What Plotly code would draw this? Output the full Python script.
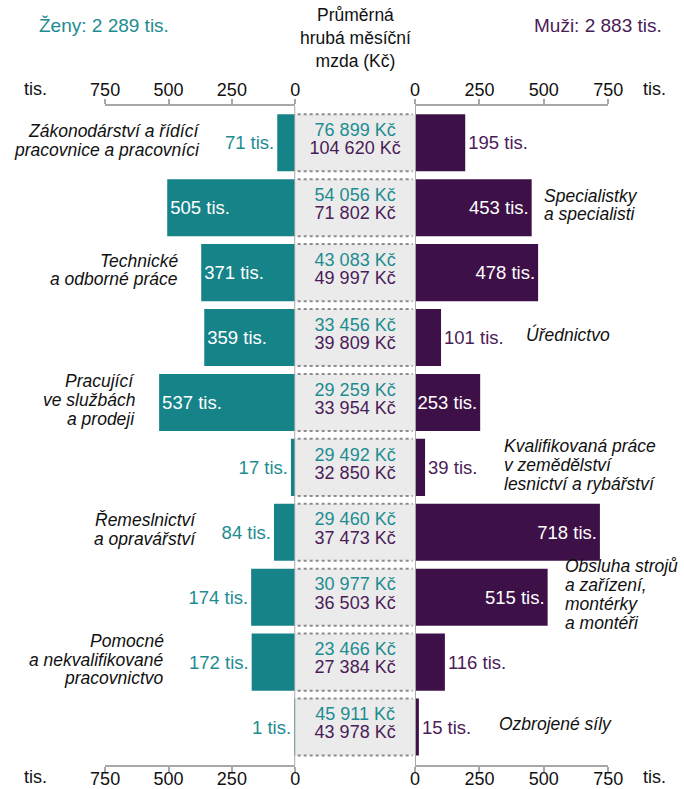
import plotly.graph_objects as go

# ---------------- data ----------------
categories = [
    "Zákonodárství a řídící pracovnice a pracovníci",
    "Specialistky a specialisti",
    "Technické a odborné práce",
    "Úřednictvo",
    "Pracující ve službách a prodeji",
    "Kvalifikovaná práce v zemědělství lesnictví a rybářství",
    "Řemeslnictví a opravářství",
    "Obsluha strojů a zařízení, montérky a montéři",
    "Pomocné a nekvalifikované pracovnictvo",
    "Ozbrojené síly",
]
label_lines = [
    ["Zákonodárství a řídící", "pracovnice a pracovníci"],
    ["Specialistky", "a specialisti"],
    ["Technické", "a odborné práce"],
    ["Úřednictvo"],
    ["Pracující", "ve službách", "a prodeji"],
    ["Kvalifikovaná práce", "v zemědělství", "lesnictví a rybářství"],
    ["Řemeslnictví", "a opravářství"],
    ["Obsluha strojů", "a zařízení,", "montérky", "a montéři"],
    ["Pomocné", "a nekvalifikované", "pracovnictvo"],
    ["Ozbrojené síly"],
]
women_count = [71, 505, 371, 359, 537, 17, 84, 174, 172, 1]      # tis.
men_count = [195, 453, 478, 101, 253, 39, 718, 515, 116, 15]     # tis.
women_wage = [76899, 54056, 43083, 33456, 29259, 29492, 29460, 30977, 23466, 45911]  # Kč
men_wage = [104620, 71802, 49997, 39809, 33954, 32850, 37473, 36503, 27384, 43978]   # Kč
tick_vals = [0, 250, 500, 750]
women_total = "Ženy: 2 289 tis."
men_total = "Muži: 2 883 tis."

# ---------------- style / layout ----------------
W, H = 684, 789
TEAL = "#168389"
TEAL_TXT = "#1d8c91"
PURPLE = "#3d1048"
PURPLE_TXT = "#4a1c58"
GREY_LINE = "#a8a8a8"
FONT = "Liberation Sans, Arial, sans-serif"
FS = 18
FS_VAL = 18.5
FS_WAGE = 18
FS_LAB = 17.5

# target positions (in picture pixels) -> page pixels
def X(px):
    return (px - 14.2) / 0.958

def Y(py):
    return (py - 2.0) / 0.988

TOP = Y(107)          # top axis line
BOTTOM = 768.0        # bottom axis line (page px)
ROW0 = Y(143.5)       # centre of first row
ROWH = 64.4 / 0.988   # row pitch

def fx(px_page):
    return px_page / W

def fy(py_page):
    return (BOTTOM - py_page) / (BOTTOM - TOP)

label_side = ["left", "right", "left", "right", "left", "right", "left", "right", "left", "right"]
label_px = [202, 542, 180, 524, 136, 502, 199, 563, 165, 497]
women_pos = ["outside", "inside", "inside", "inside", "inside", "outside", "outside", "outside", "outside", "outside"]
men_pos = ["outside", "inside", "inside", "outside", "inside", "outside", "inside", "inside", "outside", "outside"]

def fmt_wage(v):
    return f"{v:,}".replace(",", " ") + " Kč"

idx = list(range(len(categories)))
BW = 0.88

fig = go.Figure()

fig.add_trace(go.Bar(
    y=idx, x=women_count, orientation="h", xaxis="x", yaxis="y",
    width=BW, marker=dict(color=TEAL, line=dict(width=0)),
    text=[f"{v} tis." for v in women_count], textposition=women_pos,
    insidetextanchor="end", constraintext="none", cliponaxis=False,
    insidetextfont=dict(color="white", size=FS_VAL, family=FONT),
    outsidetextfont=dict(color=TEAL_TXT, size=FS_VAL, family=FONT),
    hovertext=categories, name="Ženy", showlegend=False,
))
fig.add_trace(go.Bar(
    y=idx, x=men_count, orientation="h", xaxis="x2", yaxis="y",
    width=BW, marker=dict(color=PURPLE, line=dict(width=0)),
    text=[f"{v} tis." for v in men_count], textposition=men_pos,
    insidetextanchor="end", constraintext="none", cliponaxis=False,
    insidetextfont=dict(color="white", size=FS_VAL, family=FONT),
    outsidetextfont=dict(color=PURPLE_TXT, size=FS_VAL, family=FONT),
    hovertext=categories, name="Muži", showlegend=False,
))
# invisible companions so the bottom tick axes are drawn
fig.add_trace(go.Scatter(y=idx, x=women_count, xaxis="x4", yaxis="y", mode="none",
                         hoverinfo="skip", showlegend=False))
fig.add_trace(go.Scatter(y=idx, x=men_count, xaxis="x5", yaxis="y", mode="none",
                         hoverinfo="skip", showlegend=False))
# middle wage column
fig.add_trace(go.Bar(
    y=idx, x=[1] * len(idx), orientation="h", xaxis="x3", yaxis="y",
    width=BW, marker=dict(color="#ebebeb", line=dict(width=0)),
    hoverinfo="skip", showlegend=False,
))
fig.add_trace(go.Scatter(
    y=[i - 0.175 for i in idx], x=[0.5] * len(idx), xaxis="x3", yaxis="y",
    mode="text", text=[fmt_wage(v) for v in women_wage],
    textfont=dict(color=TEAL_TXT, size=FS_WAGE, family=FONT), hoverinfo="skip", showlegend=False,
))
fig.add_trace(go.Scatter(
    y=[i + 0.105 for i in idx], x=[0.5] * len(idx), xaxis="x3", yaxis="y",
    mode="text", text=[fmt_wage(v) for v in men_wage],
    textfont=dict(color=PURPLE_TXT, size=FS_WAGE, family=FONT), hoverinfo="skip", showlegend=False,
))

shapes = []
for i in idx:
    for yy in (i - BW / 2, i + BW / 2):
        shapes.append(dict(type="line", xref="x3", yref="y", x0=0.02, x1=0.98, y0=yy, y1=yy,
                           line=dict(color="#8c8c8c", width=2, dash="dot")))
shapes.append(dict(type="line", xref="x", yref="paper", x0=0, x1=0, y0=0, y1=1,
                   line=dict(color=GREY_LINE, width=2)))
shapes.append(dict(type="line", xref="x2", yref="paper", x0=0, x1=0, y0=0, y1=1,
                   line=dict(color=GREY_LINE, width=2)))

annotations = []
LH = 18.6 / 64.4
for i, lines in enumerate(label_lines):
    n = len(lines)
    for j, ln in enumerate(lines):
        annotations.append(dict(
            text=ln, xref="paper", yref="y", x=fx(X(label_px[i])),
            y=i + (j - (n - 1) / 2) * LH - 0.04,
            xanchor="right" if label_side[i] == "left" else "left", yanchor="middle",
            showarrow=False, font=dict(family=FONT, size=FS_LAB, color="#111111", style="italic"),
        ))

annotations += [
    dict(text=women_total, xref="paper", yref="paper", x=fx(X(36)), y=fy(Y(27)), xanchor="left",
         yanchor="middle", showarrow=False, font=dict(family=FONT, size=19, color=TEAL_TXT)),
    dict(text=men_total, xref="paper", yref="paper", x=fx(X(664)), y=fy(Y(27)), xanchor="right",
         yanchor="middle", showarrow=False, font=dict(family=FONT, size=19, color=PURPLE_TXT)),
    dict(text="Průměrná<br>hrubá měsíční<br>mzda (Kč)", xref="paper", yref="paper", x=fx(X(355)),
         y=fy(Y(40)), xanchor="center", yanchor="middle", showarrow=False,
         font=dict(family=FONT, size=17.5, color="#111111")),
]
for ypg in (Y(90), 780.5):
    annotations.append(dict(text="tis.", xref="paper", yref="paper", x=fx(X(35)), y=fy(ypg),
                            xanchor="center", yanchor="middle", showarrow=False,
                            font=dict(family=FONT, size=FS, color="#111111")))
    annotations.append(dict(text="tis.", xref="paper", yref="paper", x=fx(683), y=fy(ypg),
                            xanchor="right", yanchor="middle", showarrow=False,
                            font=dict(family=FONT, size=FS, color="#111111")))

axis_style = dict(
    tickvals=tick_vals, ticktext=[str(v) for v in tick_vals], showline=True, linecolor=GREY_LINE,
    linewidth=2, ticks="outside", ticklen=5, tickwidth=2, tickcolor=GREY_LINE,
    showgrid=False, zeroline=False, tickfont=dict(family=FONT, size=FS, color="#111111"),
    fixedrange=True,
)
left_dom = [fx(X(104.5)), fx(X(295))]
right_dom = [fx(X(415)), fx(X(608.5))]

y_top = -(ROW0 - TOP) / ROWH
y_bot = 9 + (BOTTOM - (ROW0 + 9 * ROWH)) / ROWH

fig.update_layout(
    width=W, height=H, margin=dict(l=0, r=0, t=TOP, b=H - BOTTOM),
    paper_bgcolor="white", plot_bgcolor="rgba(0,0,0,0)",
    barmode="overlay", showlegend=False, hovermode=False,
    xaxis=dict(domain=left_dom, range=[750, 0], side="top", anchor="y",
               ticklabelstandoff=-4, **axis_style),
    xaxis2=dict(domain=right_dom, range=[0, 750], side="top", anchor="y",
                ticklabelstandoff=-4, **axis_style),
    xaxis3=dict(domain=[fx(X(295)), fx(X(415))], range=[0, 1], anchor="y", visible=False,
                fixedrange=True),
    xaxis4=dict(overlaying="x", range=[750, 0], side="bottom", anchor="y",
                ticklabelstandoff=-9, **axis_style),
    xaxis5=dict(overlaying="x2", range=[0, 750], side="bottom", anchor="y",
                ticklabelstandoff=-9, **axis_style),
    yaxis=dict(range=[y_bot, y_top], visible=False, fixedrange=True),
    shapes=shapes, annotations=annotations,
)

fig.write_html(
    "out.html",
    config={"displayModeBar": False},
    post_script="document.body.style.margin='0';document.body.style.overflow='hidden';",
)
